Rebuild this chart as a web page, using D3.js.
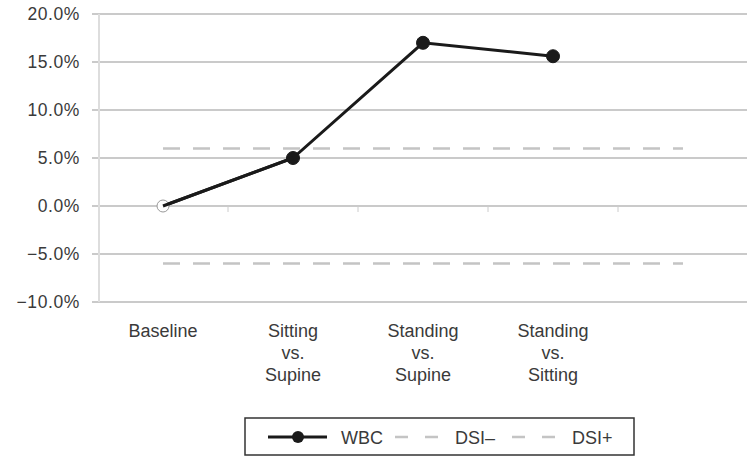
<!DOCTYPE html>
<html><head><meta charset="utf-8">
<script src="https://cdn.jsdelivr.net/npm/d3@7"></script>
<style>body{margin:0;background:#fff}svg{display:block}</style>
</head><body>
<script>
const categories = [["Baseline"],["Sitting","vs.","Supine"],["Standing","vs.","Supine"],["Standing","vs.","Sitting"],[""]];
const wbcValues = [0.0, 5.0, 17.0, 15.6];
const dsiMinus = [6.0, 6.0, 6.0, 6.0, 6.0];
const dsiPlus = [-6.0, -6.0, -6.0, -6.0, -6.0];
const yTicks = [-10, -5, 0, 5, 10, 15, 20];

const W = 747, H = 459;
const svg = d3.select("body").append("svg").attr("width", W).attr("height", H);
const font = "Liberation Sans, Arial, sans-serif";
const textColor = "#3a3a3a";

const x = d3.scaleBand().domain(d3.range(categories.length)).range([98, 748]);
const cx = i => x(i) + x.bandwidth() / 2;
const y = d3.scaleLinear().domain([-10, 20]).range([302, 14]);

// y labels
const yAxis = d3.axisLeft(y).tickValues(yTicks).tickSize(0).tickPadding(0)
  .tickFormat(d => (d < 0 ? "\u2212" + Math.abs(d).toFixed(1) : d.toFixed(1)) + "%");
const ga = svg.append("g").attr("transform", "translate(80,0)").call(yAxis);
ga.select(".domain").remove();
ga.selectAll("text").attr("font-family", font).attr("font-size", 17.5)
  .attr("letter-spacing", 0.6).attr("fill", textColor).attr("x", 0);

// gridlines
svg.append("g").selectAll("line").data(yTicks).join("line")
  .attr("x1", 92).attr("x2", W).attr("y1", d => y(d)).attr("y2", d => y(d))
  .attr("stroke", "#b8b8b8").attr("stroke-width", 1.5);

// vertical axis line
svg.append("line").attr("x1", 99).attr("x2", 99).attr("y1", 14).attr("y2", 302)
  .attr("stroke", "#ddd").attr("stroke-width", 2);

// small ticks on zero line
svg.append("g").selectAll("line").data(d3.range(1, categories.length)).join("line")
  .attr("x1", i => x(i)).attr("x2", i => x(i)).attr("y1", y(0)).attr("y2", y(0) + 6)
  .attr("stroke", "#ccc").attr("stroke-width", 1);

// DSI lines
const line = d3.line().x((d, i) => cx(i)).y(d => y(d));
[dsiMinus, dsiPlus].forEach(arr => {
  svg.append("path").datum(arr).attr("d", line).attr("fill", "none")
    .attr("stroke", "#c4c4c4").attr("stroke-width", 2.5).attr("stroke-dasharray", "17,13");
});

// WBC line
svg.append("path").datum(wbcValues).attr("d", line).attr("fill", "none")
  .attr("stroke", "#1a1a1a").attr("stroke-width", 3);
svg.append("g").selectAll("circle").data(wbcValues).join("circle")
  .attr("cx", (d, i) => cx(i)).attr("cy", d => y(d))
  .attr("r", (d, i) => i === 0 ? 6 : 6.5)
  .attr("fill", (d, i) => i === 0 ? "#fff" : "#1a1a1a")
  .attr("stroke", (d, i) => i === 0 ? "#999" : "#1a1a1a")
  .attr("stroke-width", 1);
svg.append("path").datum(wbcValues.slice(0, 2)).attr("d", line).attr("fill", "none")
  .attr("stroke", "#1a1a1a").attr("stroke-width", 3);

// category labels
const cl = svg.append("g").selectAll("text").data(categories).join("text")
  .attr("x", (d, i) => cx(i)).attr("y", 337)
  .attr("text-anchor", "middle").attr("font-family", font).attr("font-size", 18).attr("fill", textColor);
cl.selectAll("tspan").data(d => d).join("tspan")
  .attr("x", function () { return d3.select(this.parentNode).attr("x"); })
  .attr("dy", (d, j) => j === 0 ? 0 : 22).text(d => d);

// legend
const lg = svg.append("g");
lg.append("rect").attr("x", 245).attr("y", 418).attr("width", 389).attr("height", 37)
  .attr("fill", "#fff").attr("stroke", "#333").attr("stroke-width", 1.5);
const ly = 437;
lg.append("line").attr("x1", 268).attr("x2", 327).attr("y1", ly).attr("y2", ly)
  .attr("stroke", "#1a1a1a").attr("stroke-width", 3);
lg.append("circle").attr("cx", 298).attr("cy", ly).attr("r", 6).attr("fill", "#1a1a1a");
const legendItems = [{t: "WBC", x: 341}, {t: "DSI\u2013", x: 455}, {t: "DSI+", x: 572}];
lg.selectAll("text").data(legendItems).join("text")
  .attr("x", d => d.x).attr("y", ly + 6.5).attr("font-family", font).attr("font-size", 18)
  .attr("fill", textColor).text(d => d.t);
[[395, 438], [512, 555]].forEach(([a, b]) => {
  lg.append("line").attr("x1", a).attr("x2", b).attr("y1", ly).attr("y2", ly)
    .attr("stroke", "#c4c4c4").attr("stroke-width", 2.5).attr("stroke-dasharray", "13,17");
});
</script>
</body></html>
